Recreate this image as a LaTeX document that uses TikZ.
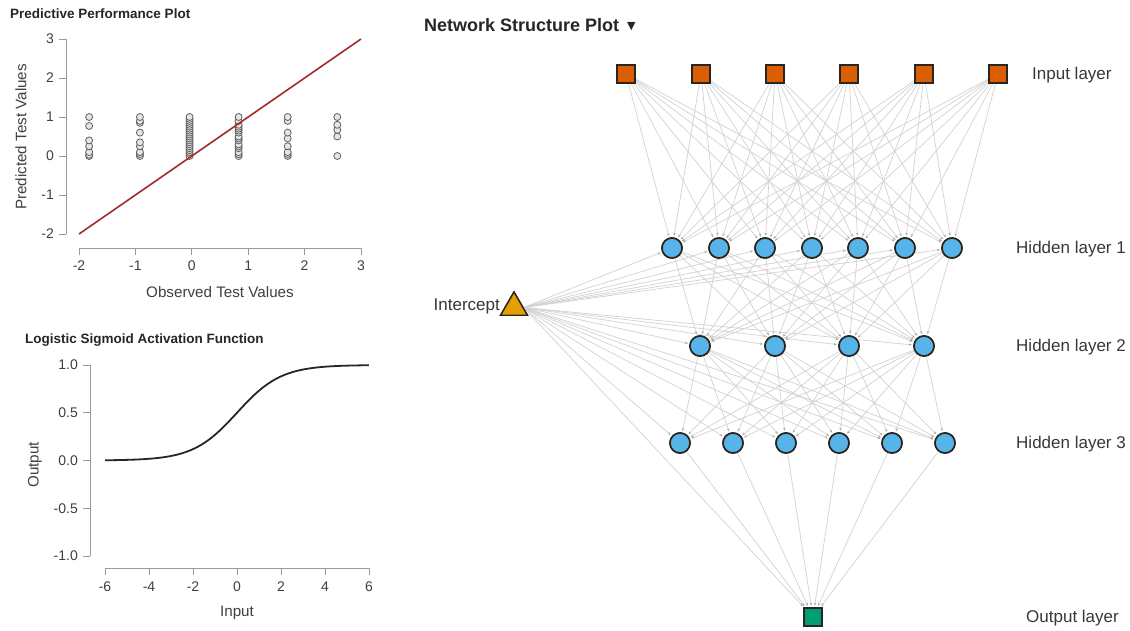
\documentclass[tikz,border=0pt]{standalone}
\usepackage{fontspec}
\setmainfont{Liberation Sans}
\newfontfamily\symfont{DejaVu Sans}
\usetikzlibrary{arrows.meta,shapes.geometric}
\definecolor{inpc}{HTML}{D95F02}
\definecolor{hidc}{HTML}{56B4E9}
\definecolor{icc}{HTML}{E69F00}
\definecolor{outc}{HTML}{009E73}
\definecolor{txtc}{HTML}{404040}
\definecolor{axc}{HTML}{9A9A9A}
\definecolor{redl}{HTML}{A52A2A}
\definecolor{edgec}{HTML}{D2D2D2}
\definecolor{tipc}{HTML}{B0A8A0}
\definecolor{bordc}{HTML}{2A2520}
\tikzset{
  inp/.style={draw=bordc,line width=1.6pt,fill=inpc,minimum size=18pt,inner sep=0pt},
  hid/.style={circle,draw=bordc,line width=1.6pt,fill=hidc,minimum size=20pt,inner sep=0pt},
  outn/.style={draw=bordc,line width=1.6pt,fill=outc,minimum size=18pt,inner sep=0pt},
  icn/.style={regular polygon,regular polygon sides=3,draw=bordc,line width=1.4pt,fill=icc,minimum size=31pt,inner sep=0pt},
  edge/.style={draw=edgec,line width=0.7pt,-{Stealth[length=3pt,width=2.4pt,color=tipc]},shorten >=1.5pt},
  lbl/.style={font=\fontsize{17}{19}\selectfont,text=black!78,anchor=west,inner sep=0pt},
  tick/.style={font=\fontsize{14}{16}\selectfont,text=txtc,inner sep=0pt},
  axlab/.style={font=\fontsize{15.2}{17}\selectfont,text=txtc,inner sep=0pt},
  ptitle/.style={font=\bfseries\fontsize{13.5}{15}\selectfont,text=black!85,anchor=west,inner sep=0pt},
  axis/.style={draw=axc,line width=0.8pt},
  pt/.style={draw=gray!75!black,fill=gray!20,line width=0.8pt}
}
\begin{document}
\begin{tikzpicture}[x=1pt,y=-1pt]
\useasboundingbox[fill=white] (0,0) rectangle (1130,630);
% ---------------- Predictive Performance Plot ----------------
\node[ptitle] (t1) at (10,14) {Predictive Performance Plot};
\draw[axis] (66,39) -- (66,234);
\foreach \v in {3,2,1,0,-1,-2} {
  \draw[axis] (66,{156-39*\v}) -- (59,{156-39*\v});
  \node[tick,anchor=east] at (54,{156-39*\v}) {\v};
}
\draw[axis] (79,248) -- (361,248);
\foreach \v in {-2,-1,0,1,2,3} {
  \draw[axis] ({191.8+56.4*\v},248) -- ({191.8+56.4*\v},255);
  \node[tick] at ({191.8+56.4*\v},266) {\v};
}
\node[axlab] (xl1) at (220,292) {Observed Test Values};
\node[axlab,rotate=90] (yl1) at (21,137) {Predicted Test Values};
\foreach \px/\vals in {
  -1.82/{0,0.03,0.1,0.25,0.4,0.77,1},
  -0.92/{0,0.05,0.1,0.25,0.35,0.6,0.85,0.9,1},
  -0.04/{0,0.05,0.1,0.15,0.2,0.25,0.3,0.35,0.4,0.45,0.5,0.55,0.6,0.65,0.7,0.75,0.8,0.85,0.9,0.95,1},
  0.83/{0,0.05,0.1,0.2,0.25,0.3,0.4,0.45,0.5,0.6,0.65,0.7,0.75,0.8,0.9,1},
  1.70/{0,0.05,0.1,0.25,0.45,0.6,0.9,1},
  2.58/{0,0.5,0.67,0.8,1}} {
  \foreach \py in \vals {
    \draw[pt] ({191.8+56.4*\px},{156-39*\py}) circle (3.5);
  }
}
\draw[redl,line width=1.6pt] (79,234) -- (361,39);
% ---------------- Logistic Sigmoid ----------------
\node[ptitle] (t2) at (25,340) {Logistic Sigmoid Activation Function};
\draw[axis] (90,365) -- (90,556);
\foreach \v/\t in {1/1.0,0.5/0.5,0/0.0,-0.5/-0.5,-1/-1.0} {
  \draw[axis] (90,{460.5-95.5*\v}) -- (83,{460.5-95.5*\v});
  \node[tick,anchor=east] at (78,{460.5-95.5*\v}) {\t};
}
\draw[axis] (105,568) -- (369,568);
\foreach \v in {-6,-4,-2,0,2,4,6} {
  \draw[axis] ({237+22*\v},568) -- ({237+22*\v},575);
  \node[tick] at ({237+22*\v},587) {\v};
}
\node[axlab] (xl2) at (237,613) {Input};
\node[axlab,rotate=90] (yl2) at (35,465) {Output};
\draw[black!85,line width=1.8pt] plot[domain=-6:6,samples=120,smooth] ({237+22*\x},{460.5-95.5/(1+exp(-\x))});
% ---------------- Network Structure Plot ----------------
\node[font=\bfseries\fontsize{18}{20}\selectfont,text=black!85,anchor=west,inner sep=0pt] (t3) at (424,25) {Network Structure Plot\hspace{8pt}{\symfont\fontsize{11}{12}\selectfont\raisebox{1.5pt}{▼}}};
\foreach \x [count=\i] in {626,701,775,849,924,998} \node[inp] (a\i) at (\x,74) {};
\foreach \x [count=\i] in {672,719,765,812,858,905,952} \node[hid] (b\i) at (\x,248) {};
\foreach \x [count=\i] in {700,775,849,924} \node[hid] (c\i) at (\x,346) {};
\foreach \x [count=\i] in {680,733,786,839,892,945} \node[hid] (d\i) at (\x,443) {};
\node[outn] (o) at (813,617) {};
\node[icn] (ic) at (514,307.5) {};
\node[font=\fontsize{17}{19}\selectfont,text=black!78,anchor=east,inner sep=0pt] (icl) at (500,306) {Intercept};
\foreach \i in {1,...,6} \foreach \j in {1,...,7} \draw[edge] (a\i) -- (b\j);
\foreach \i in {1,...,7} \foreach \j in {1,...,4} \draw[edge] (b\i) -- (c\j);
\foreach \i in {1,...,4} \foreach \j in {1,...,6} \draw[edge] (c\i) -- (d\j);
\foreach \i in {1,...,6} \draw[edge] (d\i) -- (o);
\foreach \j in {1,...,7} \draw[edge] (ic.east) -- (b\j);
\foreach \j in {1,...,4} \draw[edge] (ic.east) -- (c\j);
\foreach \j in {1,...,6} \draw[edge] (ic.east) -- (d\j);
\draw[edge] (ic.east) -- (o);
% redraw nodes on top of the connectors
\foreach \x in {626,701,775,849,924,998} \node[inp] at (\x,74) {};
\foreach \x in {672,719,765,812,858,905,952} \node[hid] at (\x,248) {};
\foreach \x in {700,775,849,924} \node[hid] at (\x,346) {};
\foreach \x in {680,733,786,839,892,945} \node[hid] at (\x,443) {};
\node[outn] at (813,617) {};
\node[icn] at (514,307.5) {};
\node[lbl] (l0) at (1032,75) {Input layer};
\node[lbl] (l1) at (1016,249) {Hidden layer 1};
\node[lbl] (l2) at (1016,347) {Hidden layer 2};
\node[lbl] (l3) at (1016,444) {Hidden layer 3};
\node[lbl] (l4) at (1026,618) {Output layer};
\end{tikzpicture}
\end{document}
